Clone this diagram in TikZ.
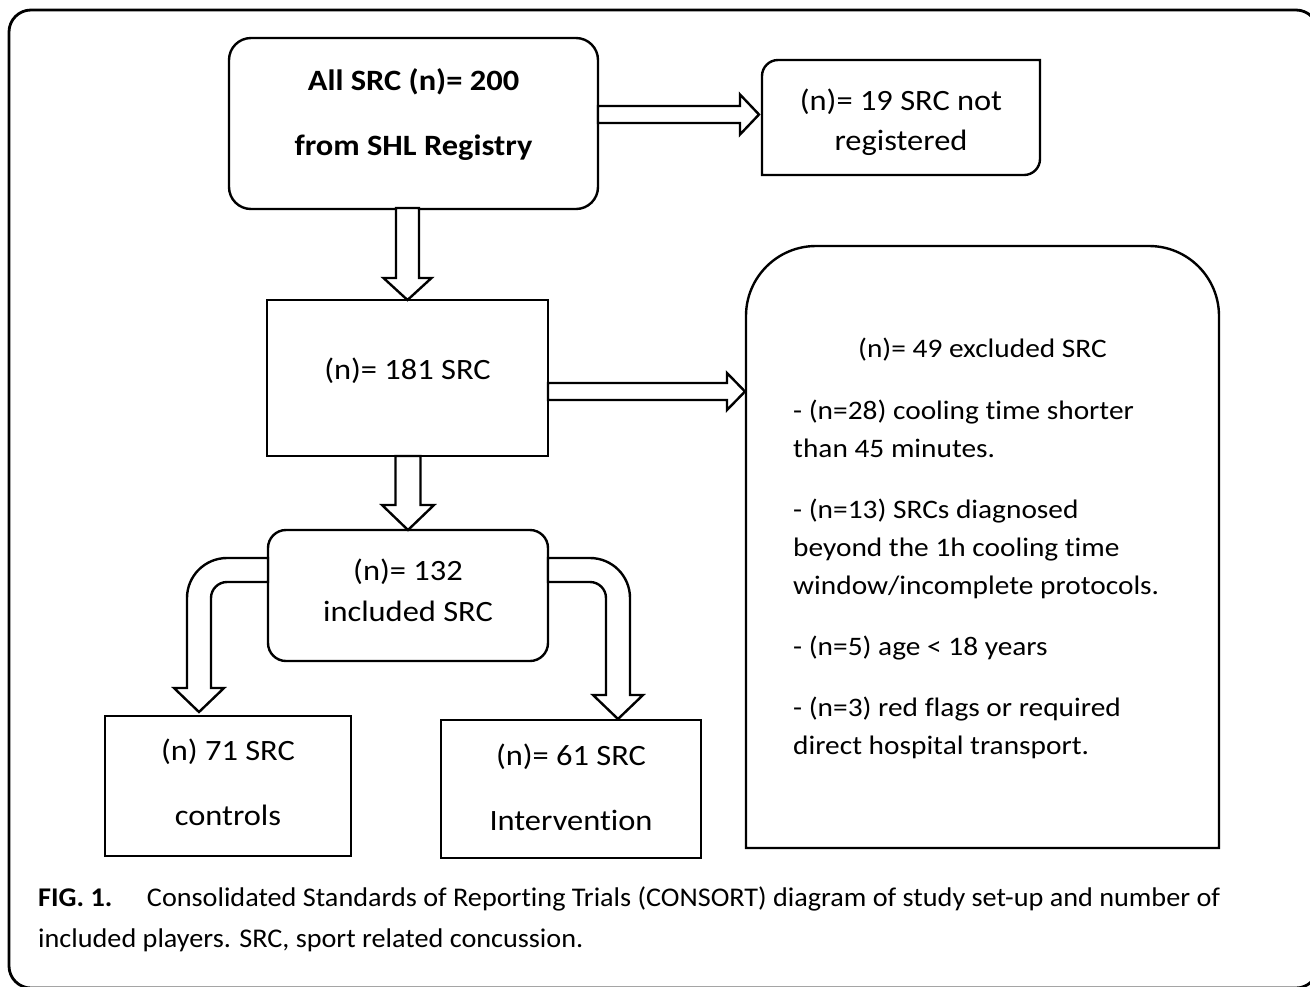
\documentclass[tikz,border=0pt]{standalone}
\usepackage{fontspec}
\setmainfont[FakeStretch=1.1, Ligatures=NoCommon]{Carlito}
\newfontfamily\capfont[Ligatures=NoCommon]{Carlito}
\usetikzlibrary{calc}

\begin{document}
\begin{tikzpicture}[x=1pt, y=-1pt, line join=miter,
  box/.style={draw, line width=2.4pt, inner sep=0pt, outer sep=0pt, align=center, font=\fontsize{29.5}{33}\selectfont},
  roundbox/.style={box, rounded corners=22pt},
  blockarrow/.style={draw, fill=white, line width=2.4pt}]
\useasboundingbox (0,0) rectangle (1310,986);
\draw[line width=2.8pt, rounded corners=22pt] (9,10) rectangle (1318,988);

\node[roundbox, minimum width=369pt, minimum height=171pt, font=\bfseries\fontsize{29.5}{33}\selectfont] (allsrc) at (413.5,123.5) {\raisebox{7pt}[\height][\depth]{\begin{tabular}{@{}c@{}}All SRC (n)= 200\\[32pt]from SHL Registry\end{tabular}}};
\node[box, draw=none, minimum width=278pt, minimum height=115pt, font=\fontsize{29.5}{40}\selectfont] (notreg) at (901,117.5) {\raisebox{-5pt}[\height][\depth]{\begin{tabular}{@{}c@{}}(n)= 19 SRC not\\registered\end{tabular}}};
\node[box, minimum width=281pt, minimum height=156pt] (s181) at (407.5,378) {\raisebox{7pt}[\height][\depth]{(n)= 181 SRC}};
\node[roundbox, rounded corners=18pt, minimum width=280pt, minimum height=131pt, font=\fontsize{29.5}{41}\selectfont] (i132) at (408,595.5) {\raisebox{3pt}[\height][\depth]{\begin{tabular}{@{}c@{}}(n)= 132\\included SRC\end{tabular}}};
\node[box, minimum width=246pt, minimum height=140pt] (ctrl) at (228,786) {\begin{tabular}{@{}c@{}}(n) 71 SRC\\[32pt]controls\end{tabular}};
\node[box, minimum width=260pt, minimum height=138pt] (intv) at (571,789) {\raisebox{-2pt}[\height][\depth]{\begin{tabular}{@{}c@{}}(n)= 61 SRC\\[32pt]Intervention\end{tabular}}};
\node[box, draw=none, minimum width=473pt, minimum height=602pt] (excl) at (982.5,547) {};
\node[font=\fontsize{26.7}{38}\selectfont, inner sep=0pt] (excltitle) at (982.5,350) {(n)= 49 excluded SRC};
\node[font=\fontsize{26.7}{38}\selectfont, inner sep=0pt, align=left, anchor=north west] (excllist) at (793,400) {- (n=28) cooling time shorter\\than 45 minutes.\\[23pt]- (n=13) SRCs diagnosed\\beyond the 1h cooling time\\window/incomplete protocols.\\[23pt]- (n=5) age < 18 years\\[23pt]- (n=3) red flags or required\\direct hospital transport.};

\draw[line width=2.4pt] ($(notreg.north west)+(16,0)$) -- (notreg.north east) -- ($(notreg.south east)+(0,-16)$) arc[start angle=0, end angle=90, radius=16] -- (notreg.south west) -- ($(notreg.north west)+(0,16)$) arc[start angle=180, end angle=270, radius=16] -- cycle;
\draw[line width=2.4pt] ($(excl.north west)+(0,70)$) arc[start angle=180, end angle=270, radius=70] -- ($(excl.north east)+(-70,0)$) arc[start angle=270, end angle=360, radius=70] -- (excl.south east) -- (excl.south west) -- cycle;

\draw[blockarrow] ($(allsrc.east)+(0,-17.5)$) -- ++(142,0) -- ++(0,-11.5) -- ++(19,20) -- ++(-19,20) -- ++(0,-11.5) -- ++(-142,0) -- cycle;
\draw[blockarrow] (s181.north) -- ++(-24,-22) -- ++(12.5,0) -- ++(0,-70) -- ++(23,0) -- ++(0,70) -- ++(12.5,0) -- cycle;
\draw[blockarrow] (i132.north) -- ++(-26,-25) -- ++(13.5,0) -- ++(0,-49) -- ++(25,0) -- ++(0,49) -- ++(13.5,0) -- cycle;
\draw[blockarrow] ($(s181.north east)+(0,83)$) -- ++(179,0) -- ++(0,-10) -- ++(18,18.5) -- ++(-18,18.5) -- ++(0,-10) -- ++(-179,0) -- cycle;
\draw[blockarrow] ($(i132.north west)+(0,28)$) -- ++(-41,0) arc[start angle=270, end angle=180, radius=40] -- ++(0,90) -- ++(-13,0) -- ++(25,24) -- ++(25,-24) -- ++(-13,0) -- ++(0,-90) arc[start angle=180, end angle=270, radius=16] -- ++(41,0) -- cycle;
\draw[blockarrow] ($(i132.north east)+(0,28)$) -- ++(42,0) arc[start angle=270, end angle=360, radius=40] -- ++(0,97) -- ++(13,0) -- ++(-25,24) -- ++(-25,-24) -- ++(13,0) -- ++(0,-97) arc[start angle=0, end angle=-90, radius=16] -- ++(-42,0) -- cycle;

\node[anchor=west, inner sep=0pt] (caption) at (38,918.5) {\resizebox{1182pt}{\height}{\capfont\fontsize{27}{41}\selectfont\begin{tabular}{@{}l@{}}\textbf{FIG. 1.}\quad\ Consolidated Standards of Reporting Trials (CONSORT) diagram of study set-up and number of\\included players. SRC, sport related concussion.\end{tabular}}};
\end{tikzpicture}
\end{document}
